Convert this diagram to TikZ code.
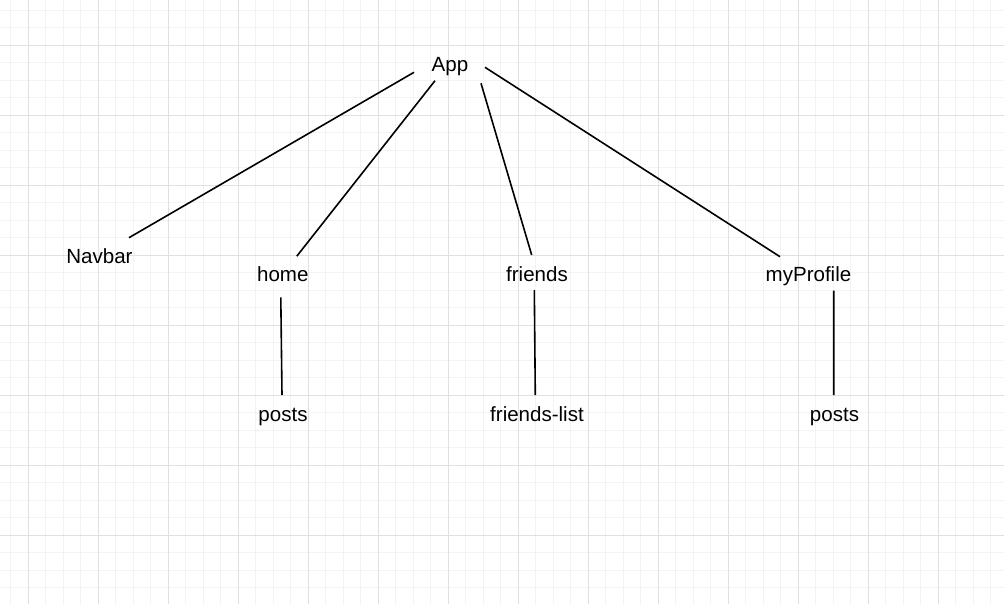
\documentclass[tikz,border=0pt]{standalone}
\usepackage{fontspec}
\setmainfont{Liberation Sans}
\definecolor{minorgrid}{HTML}{F3F3F3}
\definecolor{majorgrid}{HTML}{E0E0E0}
\begin{document}
\begin{tikzpicture}[x=0.75pt,y=-0.75pt,
  lbl/.style={font=\fontsize{15.4}{18}\selectfont, inner sep=0pt, anchor=base, text=black},
  edge/.style={line width=1.2pt, black, line cap=butt},
  minorline/.style={draw=minorgrid, line width=0.75pt},
  majorline/.style={draw=majorgrid, line width=0.75pt}]
\useasboundingbox (0,0) rectangle (1004,604);
\fill[white] (0,0) rectangle (1004,604);
% grid
\foreach \i in {0,...,57} \draw[minorline] ({10.8+17.5*\i},0) -- ({10.8+17.5*\i},604);
\foreach \i in {0,...,34} \draw[minorline] (0,{10.3+17.5*\i}) -- (1004,{10.3+17.5*\i});
\foreach \i in {0,...,14} \draw[majorline] ({28.3+70*\i},0) -- ({28.3+70*\i},604);
\foreach \i in {0,...,8} \draw[majorline] (0,{45.3+70*\i}) -- (1004,{45.3+70*\i});
% nodes
\node[lbl] (app) at (450,71.7) {App};
\node[lbl] (navbar) at (99.5,263.3) {Navbar};
\node[lbl] (home) at (282.8,281.7) {home};
\node[lbl] (friends) at (537,281.7) {friends};
\node[lbl] (myprofile) at (808.5,281.7) {myProfile};
\node[lbl] (posts1) at (283,421.7) {posts};
\node[lbl] (flist) at (537,421.7) {friends-list};
\node[lbl] (posts2) at (834.5,421.7) {posts};
% edges
\draw[edge] ([shift={(-36,0.6)}]app.base) -- ([shift={(29.5,-25.6)}]navbar.base);
\draw[edge] ([shift={(-15,9)}]app.base) -- ([shift={(14,-25.5)}]home.base);
\draw[edge] ([shift={(31,11.6)}]app.base) -- ([shift={(-5.3,-26.7)}]friends.base);
\draw[edge] ([shift={(35,-4.4)}]app.base) -- ([shift={(-28.5,-25)}]myprofile.base);
\draw[edge] ([shift={(-2,15.6)}]home.base) -- ([shift={(-1,-26.7)}]posts1.base);
\draw[edge] ([shift={(-2.7,8.3)}]friends.base) -- ([shift={(-1.7,-26.7)}]flist.base);
\draw[edge] ([shift={(25.2,9)}]myprofile.base) -- ([shift={(-0.8,-26.7)}]posts2.base);
\end{tikzpicture}
\end{document}
